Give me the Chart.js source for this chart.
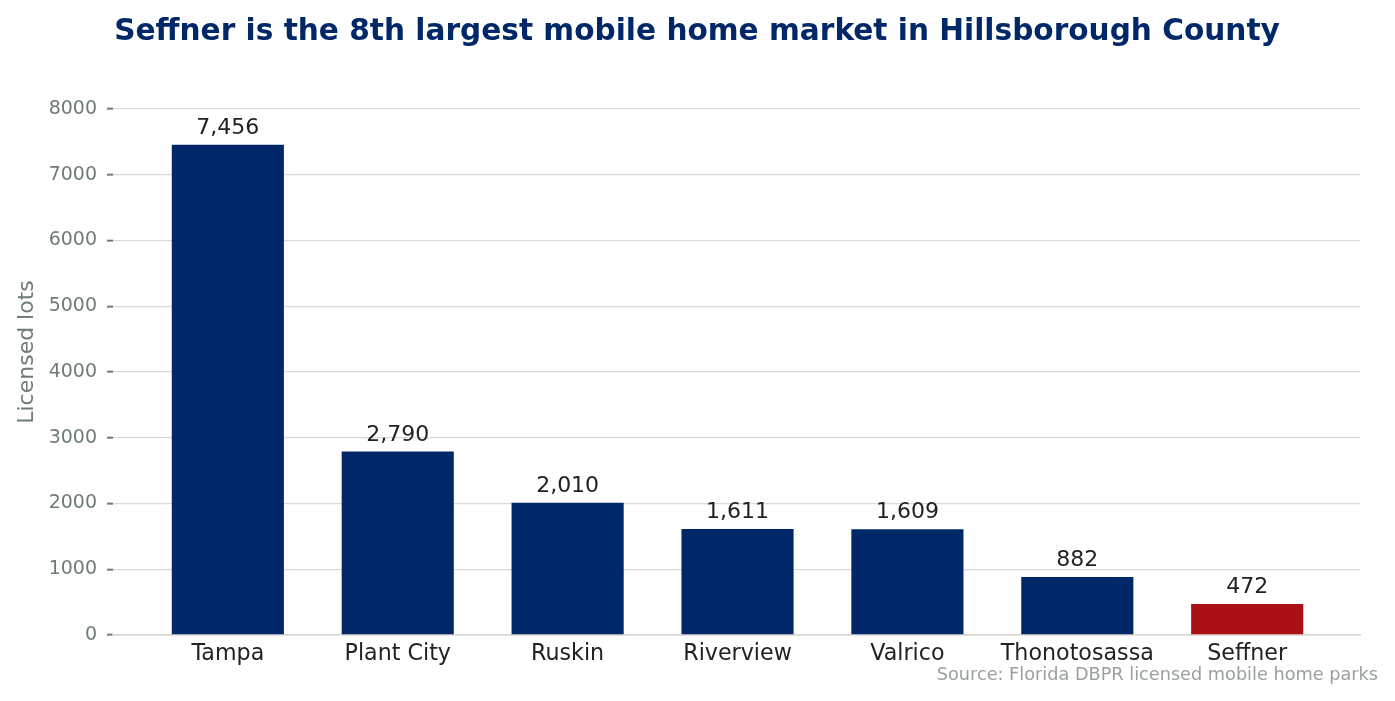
<!DOCTYPE html>
<html>
<head>
<meta charset="utf-8">
<title>Seffner mobile home market</title>
<script src="https://cdn.jsdelivr.net/npm/chart.js@4.4.1/dist/chart.umd.min.js"></script>
<style>
  body { margin: 0; background: #ffffff; }
  #wrap { width: 1395px; height: 701px; position: relative; }
</style>
</head>
<body>
<div id="wrap"><canvas id="lotsChart"></canvas></div>
<script>
// data
const cities = ['Tampa', 'Plant City', 'Ruskin', 'Riverview', 'Valrico', 'Thonotosassa', 'Seffner'];
const lots = [7456, 2790, 2010, 1611, 1609, 882, 472];
const yTicks = [0, 1000, 2000, 3000, 4000, 5000, 6000, 7000, 8000];
const highlight = 'Seffner';

const titleText = 'Seffner is the 8th largest mobile home market in Hillsborough County';
const yLabel = 'Licensed lots';
const sourceText = 'Source: Florida DBPR licensed mobile home parks';

const NAVY = '#002868';
const RED = '#AA1016';
const FONT = '"DejaVu Sans", Verdana, sans-serif';

// title, axis label, bar values and source note
const annotate = {
  id: 'annotate',
  afterDraw(chart) {
    const ctx = chart.ctx;
    ctx.save();

    ctx.fillStyle = NAVY;
    ctx.font = 'bold 29.6px ' + FONT;
    ctx.textAlign = 'center';
    ctx.textBaseline = 'alphabetic';
    ctx.fillText(titleText, 697, 40);

    // value labels above each bar
    const meta = chart.getDatasetMeta(0);
    ctx.fillStyle = '#222222';
    ctx.font = '22px ' + FONT;
    meta.data.forEach((bar, i) => {
      ctx.fillText(lots[i].toLocaleString('en-US'), bar.x, bar.y - 11);
    });

    ctx.fillStyle = '#9aa09e';
    ctx.font = '17.7px ' + FONT;
    ctx.textAlign = 'right';
    ctx.fillText(sourceText, 1378, 680);

    // rotated y axis title
    ctx.translate(33, 352);
    ctx.rotate(-Math.PI / 2);
    ctx.textAlign = 'center';
    ctx.fillStyle = '#6e7b78';
    ctx.font = '22px ' + FONT;
    ctx.fillText(yLabel, 0, 0);

    ctx.restore();
  }
};

const ctx = document.getElementById('lotsChart').getContext('2d');
new Chart(ctx, {
  type: 'bar',
  data: {
    datasets: [{
      label: 'Licensed lots',
      data: lots.map((v, i) => ({ x: i, y: v })),
      backgroundColor: cities.map(c => c === highlight ? RED : NAVY),
      barPercentage: 0.66,
      categoryPercentage: 1.0
    }]
  },
  options: {
    responsive: true,
    maintainAspectRatio: false,
    animation: false,
    layout: { padding: { top: 109, right: 35, left: 0, bottom: 0 } },
    plugins: {
      legend: { display: false },
      tooltip: { enabled: false }
    },
    scales: {
      x: {
        type: 'linear',
        offset: false,
        min: -0.676,
        max: 6.664,
        afterFit: (scale) => { scale.height = 66; },
        afterBuildTicks: (scale) => { scale.ticks = cities.map((c, i) => ({ value: i })); },
        grid: { display: false, drawTicks: false },
        border: { display: true, color: '#d8d5d0', width: 1.5 },
        ticks: {
          autoSkip: false,
          maxRotation: 0,
          padding: 6,
          color: '#222222',
          font: { family: FONT, size: 22.2 },
          callback: (v) => cities[v]
        }
      },
      y: {
        min: 0,
        max: 8000,
        afterFit: (scale) => { scale.width = 113; },
        afterBuildTicks: (scale) => { scale.ticks = yTicks.map(v => ({ value: v })); },
        grid: {
          color: '#dcd9d4',
          lineWidth: 1.3,
          tickLength: 6,
          tickColor: '#6e7b78',
          tickWidth: 2
        },
        border: { display: false },
        ticks: {
          padding: 10,
          color: '#6e7b78',
          font: { family: FONT, size: 19 },
          callback: (v) => String(v)
        }
      }
    }
  },
  plugins: [annotate]
});
</script>
</body>
</html>
